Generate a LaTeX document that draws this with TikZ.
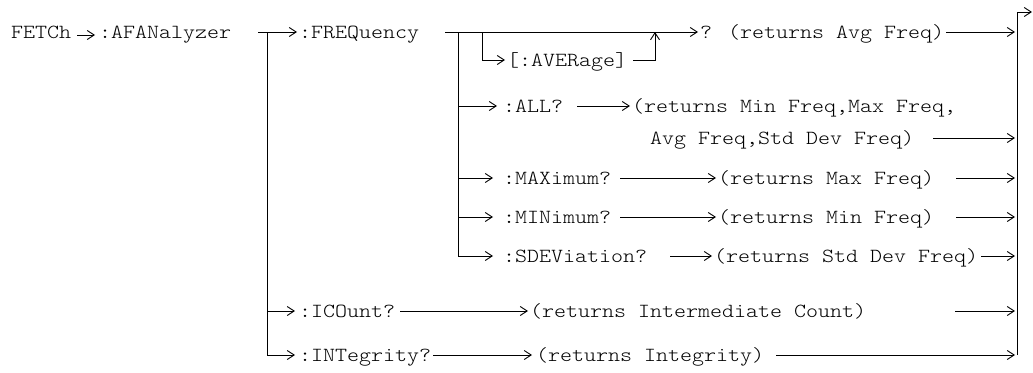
\documentclass[tikz,border=0pt]{standalone}
\usepackage{fontspec}
\newfontfamily\cour{lmmonolt10-regular.otf}[FakeStretch=1.143]
\usetikzlibrary{arrows.meta}
\begin{document}
\begin{tikzpicture}[x=1pt,y=-1pt,
  lbl/.style={font=\fontsize{20}{24}\cour, inner sep=0pt, text height=12.2pt, text depth=0pt, anchor=west},
  ln/.style={line width=0.9pt},
  arr/.style={ln, -{Straight Barb[length=7pt,width=9pt]}}]
\useasboundingbox (0,0) rectangle (1033,372);
% text nodes
\node[lbl] (fetch) at (11,32) {FETCh};
\node[lbl] (afan)  at (99,32) {:AFANalyzer};
\node[lbl] (freq)  at (299,32) {:FREQuency};
\node[lbl] (aver)  at (507,60) {[:AVERage]};
\node[lbl] (avg)   at (700,32) {? (returns Avg Freq)};
\node[lbl] (all)   at (503,106) {:ALL?};
\node[lbl] (allr1) at (632,106) {(returns Min Freq,Max Freq,};
\node[lbl] (allr2) at (650,138) {Avg Freq,Std Dev Freq)};
\node[lbl] (max)   at (503,178) {:MAXimum?};
\node[lbl] (maxr)  at (718,178) {(returns Max Freq)};
\node[lbl] (min)   at (503,217) {:MINimum?};
\node[lbl] (minr)  at (718,217) {(returns Min Freq)};
\node[lbl] (sdev)  at (503,256) {:SDEViation?};
\node[lbl] (sdevr) at (714,256) {(returns Std Dev Freq)};
\node[lbl] (ico)   at (299,311) {:ICOunt?};
\node[lbl] (icor)  at (530,311) {(returns Intermediate Count)};
\node[lbl] (int)   at (299,355) {:INTegrity?};
\node[lbl] (intr)  at (536,355) {(returns Integrity)};
% junctions
\coordinate (j1) at (267,32);
\coordinate (j2) at (458,32);
\coordinate (j3) at (482,32);
\coordinate (j4) at (655,32);
\coordinate (rtop) at (1017,12);
\coordinate (rbot) at (1017,355);
\coordinate (out) at (1032,12);
% left part
\draw[arr, shorten <=6pt, shorten >=4pt] ([yshift=-3pt]fetch.east) -- ([yshift=-3pt]afan.west);
\draw[arr, shorten <=27pt, shorten >=2pt] (afan.east) -- (freq.west);
\draw[arr, shorten >=4pt] (j1) |- (int.west);
\draw[arr, shorten >=4pt] (j1 |- ico.west) -- (ico.west);
% FREQuency branches
\draw[arr, shorten <=26pt, shorten >=2pt] (freq.east) -- (avg.west);
\draw[arr, shorten >=2pt] (j3) |- (aver.west);
\draw[arr, shorten <=6pt] (aver.east) -| (j4);
\draw[arr, shorten >=10pt] (j2) |- (sdev.west);
\draw[arr, shorten >=6pt] (j2 |- all.west) -- (all.west);
\draw[arr, shorten >=10pt] (j2 |- max.west) -- (max.west);
\draw[arr, shorten >=10pt] (j2 |- min.west) -- (min.west);
% middle arrows
\draw[arr, shorten <=14pt, shorten >=2pt] (all.east) -- (allr1.west);
\draw[arr, shorten <=9pt, shorten >=2pt] (max.east) -- (maxr.west);
\draw[arr, shorten <=9pt, shorten >=2pt] (min.east) -- (minr.west);
\draw[arr, shorten <=23pt, shorten >=2pt] (sdev.east) -- (sdevr.west);
\draw[arr, shorten <=5pt, shorten >=2pt] (ico.east) -- (icor.west);
\draw[arr, shorten <=2pt, shorten >=4pt] (int.east) -- (intr.west);
% right collector
\draw[ln] (rbot) -- (rtop);
\draw[arr] (rtop) -- (out);
\draw[arr, shorten <=2pt, shorten >=2pt] (avg.east) -- (avg.east -| rtop);
\draw[arr, shorten <=19pt, shorten >=2pt] (allr2.east) -- (allr2.east -| rtop);
\draw[arr, shorten <=22pt, shorten >=2pt] (maxr.east) -- (maxr.east -| rtop);
\draw[arr, shorten <=22pt, shorten >=2pt] (minr.east) -- (minr.east -| rtop);
\draw[arr, shorten <=3pt, shorten >=2pt] (sdevr.east) -- (sdevr.east -| rtop);
\draw[arr, shorten <=89pt, shorten >=2pt] (icor.east) -- (icor.east -| rtop);
\draw[arr, shorten <=12pt, shorten >=2pt] (intr.east) -- (intr.east -| rtop);
\end{tikzpicture}
\end{document}
